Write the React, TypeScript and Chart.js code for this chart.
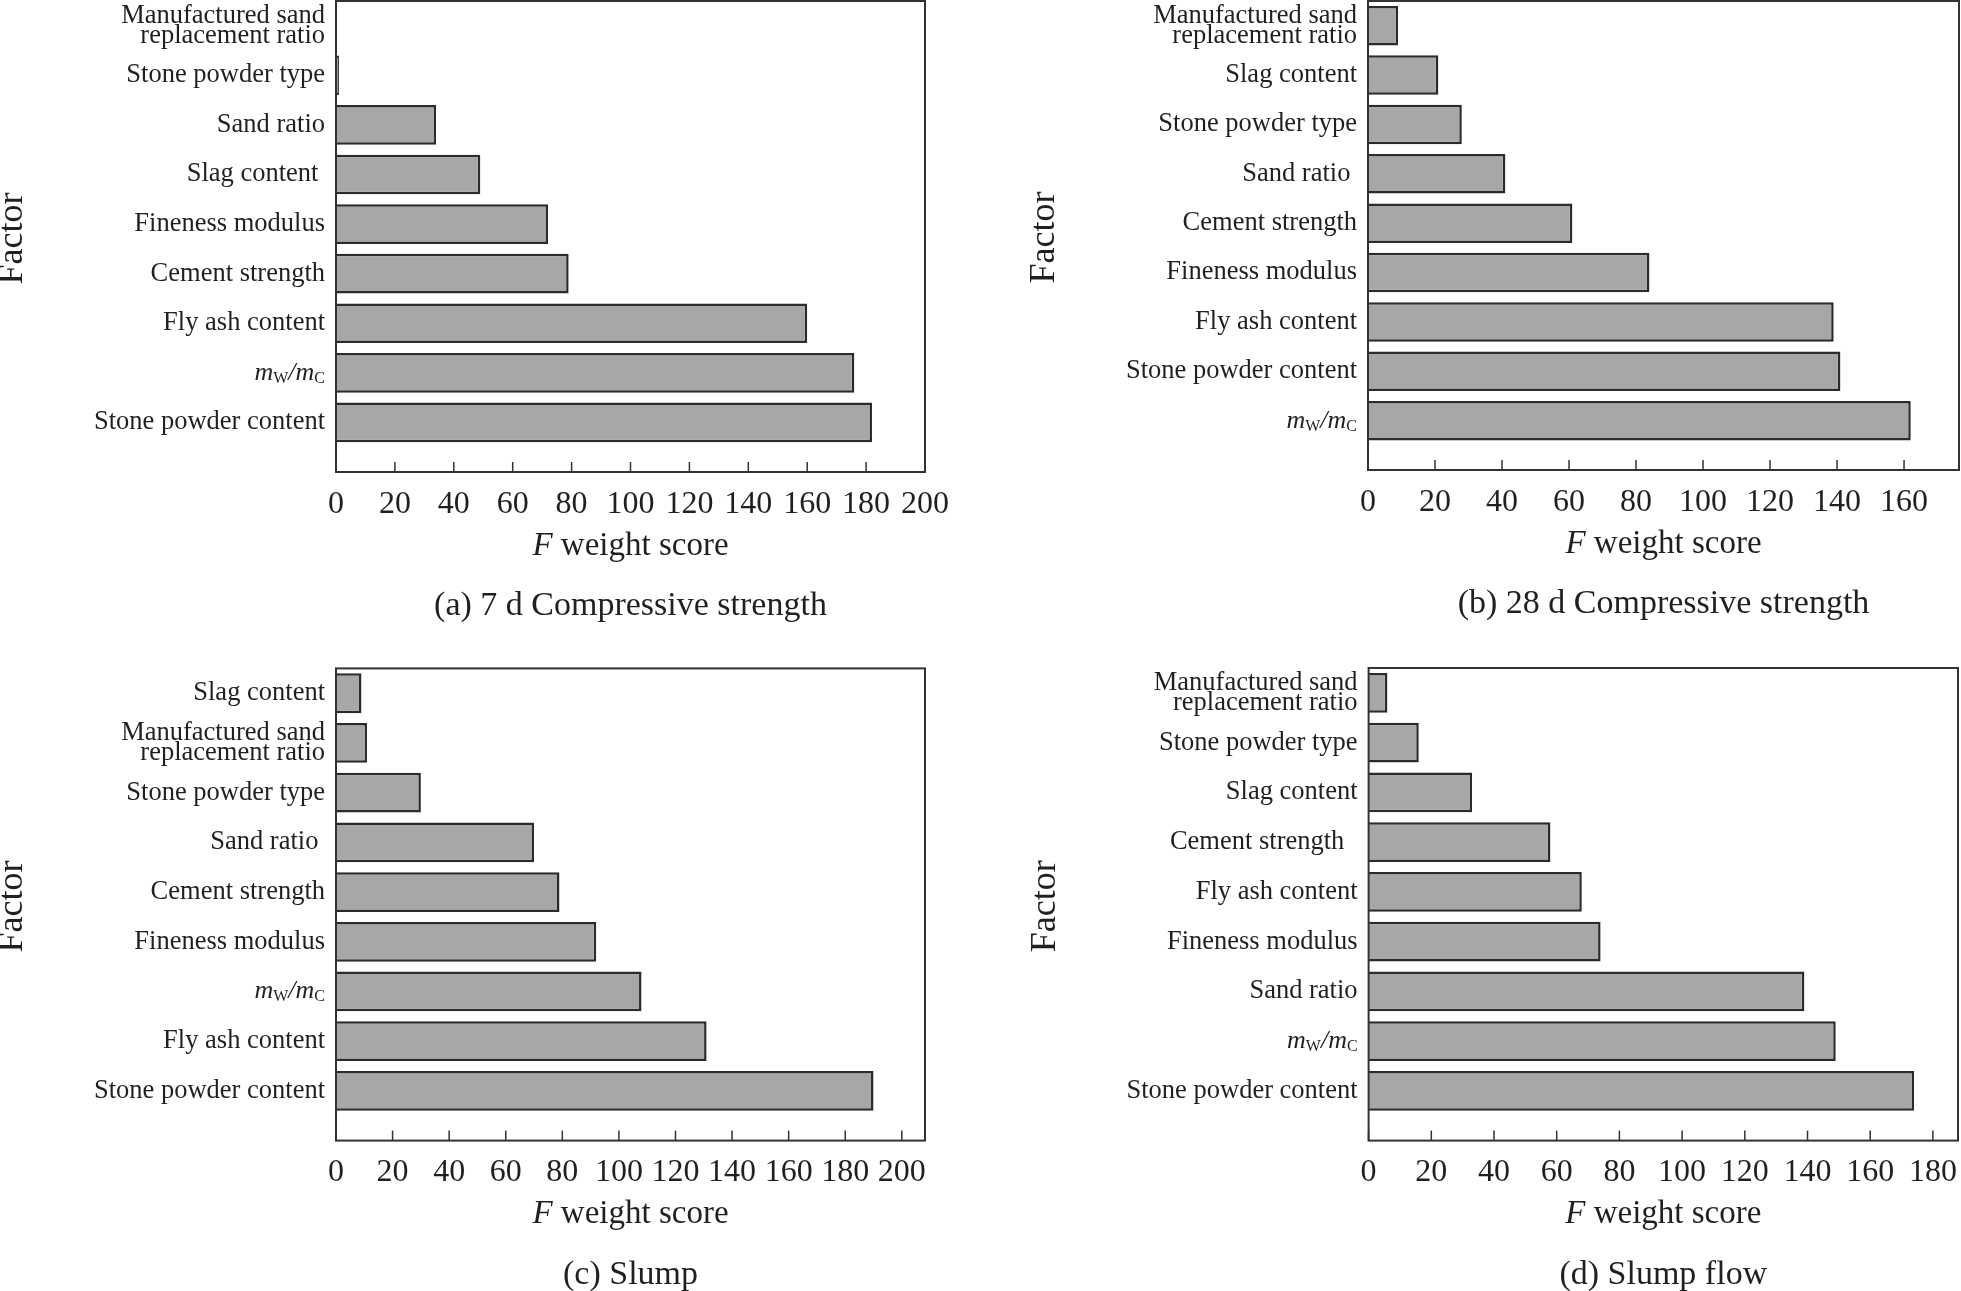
import React, { useEffect, useRef } from 'react';
import { Chart, registerables } from 'chart.js';

Chart.register(...registerables);

const SERIF = '"Liberation Serif", "DejaVu Serif", serif';
const INK = '#231f20';
const MW_MC = 'mW/mC';
const MSR = ['Manufactured sand', 'replacement ratio'];

// factors listed top to bottom as they appear in each panel
const labelsA = [MSR, 'Stone powder type', 'Sand ratio', 'Slag content ', 'Fineness modulus', 'Cement strength', 'Fly ash content', MW_MC, 'Stone powder content'];
const valuesA = [0, 1, 34, 49, 72, 79, 160, 176, 182];
const ticksA = [0, 20, 40, 60, 80, 100, 120, 140, 160, 180, 200];

const labelsB = [MSR, 'Slag content', 'Stone powder type', 'Sand ratio ', 'Cement strength', 'Fineness modulus', 'Fly ash content', 'Stone powder content', MW_MC];
const valuesB = [9, 21, 28, 41, 61, 84, 139, 141, 162];
const ticksB = [0, 20, 40, 60, 80, 100, 120, 140, 160];

const labelsC = ['Slag content', MSR, 'Stone powder type', 'Sand ratio ', 'Cement strength', 'Fineness modulus', MW_MC, 'Fly ash content', 'Stone powder content'];
const valuesC = [9, 11, 30, 70, 79, 92, 108, 131, 190];
const ticksC = [0, 20, 40, 60, 80, 100, 120, 140, 160, 180, 200];

const labelsD = [MSR, 'Stone powder type', 'Slag content', 'Cement strength  ', 'Fly ash content', 'Fineness modulus', 'Sand ratio', MW_MC, 'Stone powder content'];
const valuesD = [6, 16, 33, 58, 68, 74, 139, 149, 174];
const ticksD = [0, 20, 40, 60, 80, 100, 120, 140, 160, 180];

type Area = { l: number; t: number; r: number; b: number };
type PanelProps = {
    labels: (string | string[])[];
    values: number[];
    ticks: number[];
    xMax: number;
    caption: string;
    left: number;
    top: number;
    width: number;
    height: number;
    area: Area;
};

const LABEL_PAD = 11;

const decorPlugin = (labels: (string | string[])[], caption: string) => ({
    id: 'decor',
    afterDraw(chart: any) {
        const { ctx, chartArea } = chart;
        const xs = chart.scales.x;
        const ys = chart.scales.y;
        const n = labels.length;
        ctx.save();

        // plot frame
        ctx.strokeStyle = '#333';
        ctx.lineWidth = 2;
        ctx.strokeRect(chartArea.left, chartArea.top, chartArea.right - chartArea.left, chartArea.bottom - chartArea.top);

        // inward tick marks on the bottom axis
        ctx.lineWidth = 1.5;
        xs.ticks.forEach((t: any) => {
            const px = xs.getPixelForValue(t.value);
            ctx.beginPath();
            ctx.moveTo(px, chartArea.bottom);
            ctx.lineTo(px, chartArea.bottom - 10);
            ctx.stroke();
        });

        ctx.fillStyle = INK;

        // m_W / m_C label
        labels.forEach((lab, i) => {
            if (lab !== MW_MC) return;
            const y = ys.getPixelForValue(n - i);
            let x = chartArea.left - LABEL_PAD;
            const parts: [string, string, number][] = [
                ['C', `16px ${SERIF}`, 10],
                ['m', `italic 26px ${SERIF}`, 7],
                ['/', `italic 26px ${SERIF}`, 7],
                ['W', `16px ${SERIF}`, 10],
                ['m', `italic 26px ${SERIF}`, 7],
            ];
            ctx.textAlign = 'right';
            ctx.textBaseline = 'alphabetic';
            parts.forEach(([txt, font, dy]) => {
                ctx.font = font;
                ctx.fillText(txt, x, y + dy);
                x -= ctx.measureText(txt).width;
            });
        });

        const cx = (chartArea.left + chartArea.right) / 2;

        // x axis title with italic F
        ctx.textBaseline = 'middle';
        ctx.textAlign = 'left';
        ctx.font = `italic 33px ${SERIF}`;
        const wF = ctx.measureText('F').width;
        ctx.font = `33px ${SERIF}`;
        const wRest = ctx.measureText(' weight score').width;
        const tx = cx - (wF + wRest) / 2;
        const ty = chartArea.bottom + 74;
        ctx.font = `italic 33px ${SERIF}`;
        ctx.fillText('F', tx, ty);
        ctx.font = `33px ${SERIF}`;
        ctx.fillText(' weight score', tx + wF, ty);

        // caption
        ctx.textAlign = 'center';
        ctx.font = `34px ${SERIF}`;
        ctx.fillText(caption, cx, chartArea.bottom + 134);

        // y axis title
        ctx.translate(chartArea.left - 323, (chartArea.top + chartArea.bottom) / 2 + 2);
        ctx.rotate(-Math.PI / 2);
        ctx.font = `36px ${SERIF}`;
        ctx.fillText('Factor', 0, 0);

        ctx.restore();
    },
});

function Panel({ labels, values, ticks, xMax, caption, left, top, width, height, area }: PanelProps) {
    const canvasRef = useRef<HTMLCanvasElement>(null);
    const chartRef = useRef<Chart | null>(null);

    useEffect(() => {
        if (!canvasRef.current) return;
        if (chartRef.current) chartRef.current.destroy();
        const n = labels.length;
        const points = values.map((v, i) => ({ x: v, y: n - i }));

        chartRef.current = new Chart(canvasRef.current, {
            type: 'bar',
            data: {
                datasets: [{
                    data: points as any,
                    backgroundColor: '#a6a7a9',
                    borderColor: '#2b2b2b',
                    borderWidth: 2.5,
                    borderSkipped: 'start',
                    barPercentage: 0.8,
                    categoryPercentage: 1,
                }],
            },
            options: {
                indexAxis: 'y',
                animation: false,
                responsive: false,
                devicePixelRatio: 1,
                layout: { padding: { left: 0, top: area.t, right: width - area.r, bottom: 0 } },
                plugins: { legend: { display: false }, tooltip: { enabled: false } },
                scales: {
                    x: {
                        type: 'linear',
                        min: 0,
                        max: xMax,
                        offset: false,
                        grid: { display: false, drawTicks: false },
                        border: { display: false },
                        afterBuildTicks: (s: any) => { s.ticks = ticks.map(v => ({ value: v })); },
                        afterFit: (s: any) => {
                            s.height = height - area.b;
                            s.paddingLeft = 0; s.paddingRight = 0; s.paddingTop = 0; s.paddingBottom = 0;
                        },
                        ticks: {
                            font: { family: SERIF, size: 32 },
                            color: INK,
                            padding: 13,
                            maxRotation: 0,
                            autoSkip: false,
                            callback: (v: any) => String(v),
                        },
                    },
                    y: {
                        type: 'linear',
                        min: 0,
                        max: n + 0.5,
                        offset: false,
                        grid: { display: false, drawTicks: false },
                        border: { display: false },
                        afterBuildTicks: (s: any) => { s.ticks = labels.map((_, i) => ({ value: n - i })); },
                        afterFit: (s: any) => {
                            s.width = area.l;
                            s.paddingLeft = 0; s.paddingRight = 0; s.paddingTop = 0; s.paddingBottom = 0;
                        },
                        ticks: {
                            font: { family: SERIF, size: 26.5, lineHeight: 0.76 },
                            color: INK,
                            padding: LABEL_PAD,
                            autoSkip: false,
                            callback: (v: any) => {
                                const lab = labels[n - Number(v)];
                                return lab === MW_MC || lab === undefined ? '' : lab;
                            },
                        },
                    },
                },
            },
            plugins: [decorPlugin(labels, caption)],
        });

        return () => {
            if (chartRef.current) {
                chartRef.current.destroy();
                chartRef.current = null;
            }
        };
    }, []);

    return (
        <canvas
            ref={canvasRef}
            width={width}
            height={height}
            style={{ position: 'absolute', left, top, width, height }}
        />
    );
}

export default function App() {
    return (
        <div style={{ position: 'relative', width: 1961, height: 1291, background: '#fff', overflow: 'hidden' }}>
            <style>{'body{margin:0;background:#fff}'}</style>
            <Panel labels={labelsA} values={valuesA} ticks={ticksA} xMax={200}
                caption="(a) 7 d Compressive strength"
                left={0} top={0} width={980} height={645}
                area={{ l: 336, t: 1, r: 925, b: 472 }} />
            <Panel labels={labelsB} values={valuesB} ticks={ticksB} xMax={176.4}
                caption="(b) 28 d Compressive strength"
                left={980} top={0} width={981} height={645}
                area={{ l: 388, t: 1, r: 979, b: 470 }} />
            <Panel labels={labelsC} values={valuesC} ticks={ticksC} xMax={208.2}
                caption="(c) Slump"
                left={0} top={645} width={980} height={646}
                area={{ l: 336, t: 23.4, r: 925, b: 495.6 }} />
            <Panel labels={labelsD} values={valuesD} ticks={ticksD} xMax={188}
                caption="(d) Slump flow"
                left={980} top={645} width={981} height={646}
                area={{ l: 388.6, t: 23, r: 978, b: 495.6 }} />
        </div>
    );
}
